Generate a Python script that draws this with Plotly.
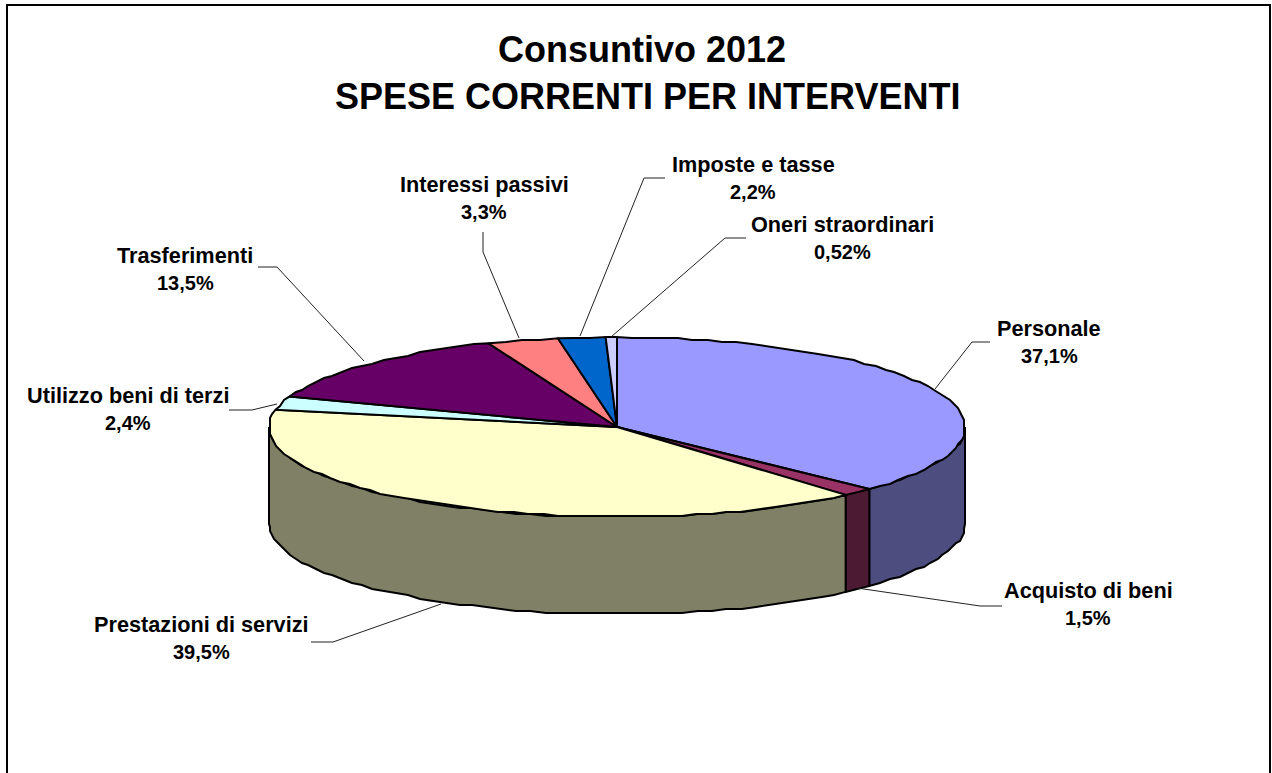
import math
import plotly.graph_objects as go

# ---- data ----
categories = ["Personale", "Acquisto di beni", "Prestazioni di servizi", "Utilizzo beni di terzi",
              "Trasferimenti", "Interessi passivi", "Imposte e tasse", "Oneri straordinari"]
values = [37.1, 1.5, 39.5, 2.4, 13.5, 3.3, 2.2, 0.52]
value_labels = ["37,1%", "1,5%", "39,5%", "2,4%", "13,5%", "3,3%", "2,2%", "0,52%"]
title_lines = ["Consuntivo 2012", "SPESE CORRENTI PER INTERVENTI"]

# ---- styles ----
top_colors = ["#9999FF", "#993366", "#FFFFCC", "#CCFFFF", "#660066", "#FF8080", "#0066CC", "#CCCCFF"]
side_colors = ["#4D4D80", "#4D1A33", "#808066", "#668080", "#330033", "#804040", "#003366", "#666680"]

# ---- layout in page pixels ----
W, H = 1272, 773
CX, CY, RX, RY, DEPTH = 617, 427, 348, 90, 97
STEP = 2        # the reference's rim wobbles slightly
FACET_DEG = 2.5  # angular length of one rim facet
LABEL_CENTERS = [(1049, 329), (1088, 591), (201, 625), (128, 396),
                 (185, 256), (484, 185), (753, 165), (842, 225)]
LINE_GAP = 27
LEADERS = [
    [(990, 342), (972, 342), (935, 389)],
    [(1002, 606), (980, 606), (857, 588)],
    [(311, 642), (333, 642), (441, 604)],
    [(229, 410), (252, 410), (277, 404)],
    [(258, 267), (277, 267), (364, 361)],
    [(483, 232), (483, 252), (519, 338)],
    [(665, 178), (644, 178), (580, 336)],
    [(746, 238), (725, 238), (611, 337)],
]


def snap(v):
    return round(v / STEP) * STEP


def rim(a0, a1, dy=0.0):
    """Points on the ellipse between two clockwise-from-top angles (degrees)."""
    n = max(2, int(abs(a1 - a0) / FACET_DEG) + 1)
    xs, ys = [], []
    for i in range(n):
        t = math.radians(a0 + (a1 - a0) * i / (n - 1))
        x = CX + RX * math.sin(t)
        y = CY - RY * math.cos(t)
        if 0 < i < n - 1:
            x, y = snap(x), snap(y)
        xs.append(x)
        ys.append(y + dy)
    return xs, ys


total = sum(values)
angles = [0.0]
for v in values:
    angles.append(angles[-1] + v / total * 360)

fig = go.Figure()


def poly(xs, ys, fill, name):
    fig.add_trace(go.Scatter(x=xs, y=ys, mode="lines", fill="toself", fillcolor=fill,
                             line=dict(color="black", width=2), name=name, hoverinfo="name",
                             showlegend=False))


# visible wall: front half of the disc, angles 90..270
for i, name in enumerate(categories):
    a0, a1 = max(angles[i], 90), min(angles[i + 1], 270)
    if a0 < a1:
        xt, yt = rim(a0, a1)
        xb, yb = rim(a1, a0, DEPTH)
        poly(xt + xb + xt[:1], yt + yb + yt[:1], side_colors[i], name)

# top face
for i, name in enumerate(categories):
    xt, yt = rim(angles[i], angles[i + 1])
    poly([CX] + xt + [CX], [CY] + yt + [CY], top_colors[i], name)

# leader lines
for pts in LEADERS:
    fig.add_trace(go.Scatter(x=[p[0] for p in pts], y=[p[1] for p in pts], mode="lines",
                             line=dict(color="#222222", width=1), hoverinfo="skip", showlegend=False))

annotations = []


def text(x, y, s, size):
    annotations.append(dict(x=x, y=y, xref="x", yref="y", text="<b>%s</b>" % s, showarrow=False,
                            xanchor="center", yanchor="middle",
                            font=dict(family="Liberation Sans, Arial, sans-serif", size=size, color="black")))


text(642, 49, title_lines[0], 36)
text(647, 96, title_lines[1], 36)
for (x, y), c, v in zip(LABEL_CENTERS, categories, value_labels):
    text(x, y - 1, c, 21.7)
    text(x, y + LINE_GAP, v, 20)

fig.update_layout(
    width=W, height=H, margin=dict(l=0, r=0, t=0, b=0),
    paper_bgcolor="white", plot_bgcolor="white", showlegend=False,
    xaxis=dict(range=[0, W], visible=False, fixedrange=True),
    yaxis=dict(range=[H, 0], visible=False, fixedrange=True),
    annotations=annotations,
    shapes=[dict(type="rect", xref="x", yref="y", x0=7, y0=5, x1=1270, y1=H + 20,
                 line=dict(color="black", width=2), layer="below")],
)
fig.write_html("out.html", config=dict(displayModeBar=False),
               post_script="document.body.style.margin='0';document.body.style.overflow='hidden';")
